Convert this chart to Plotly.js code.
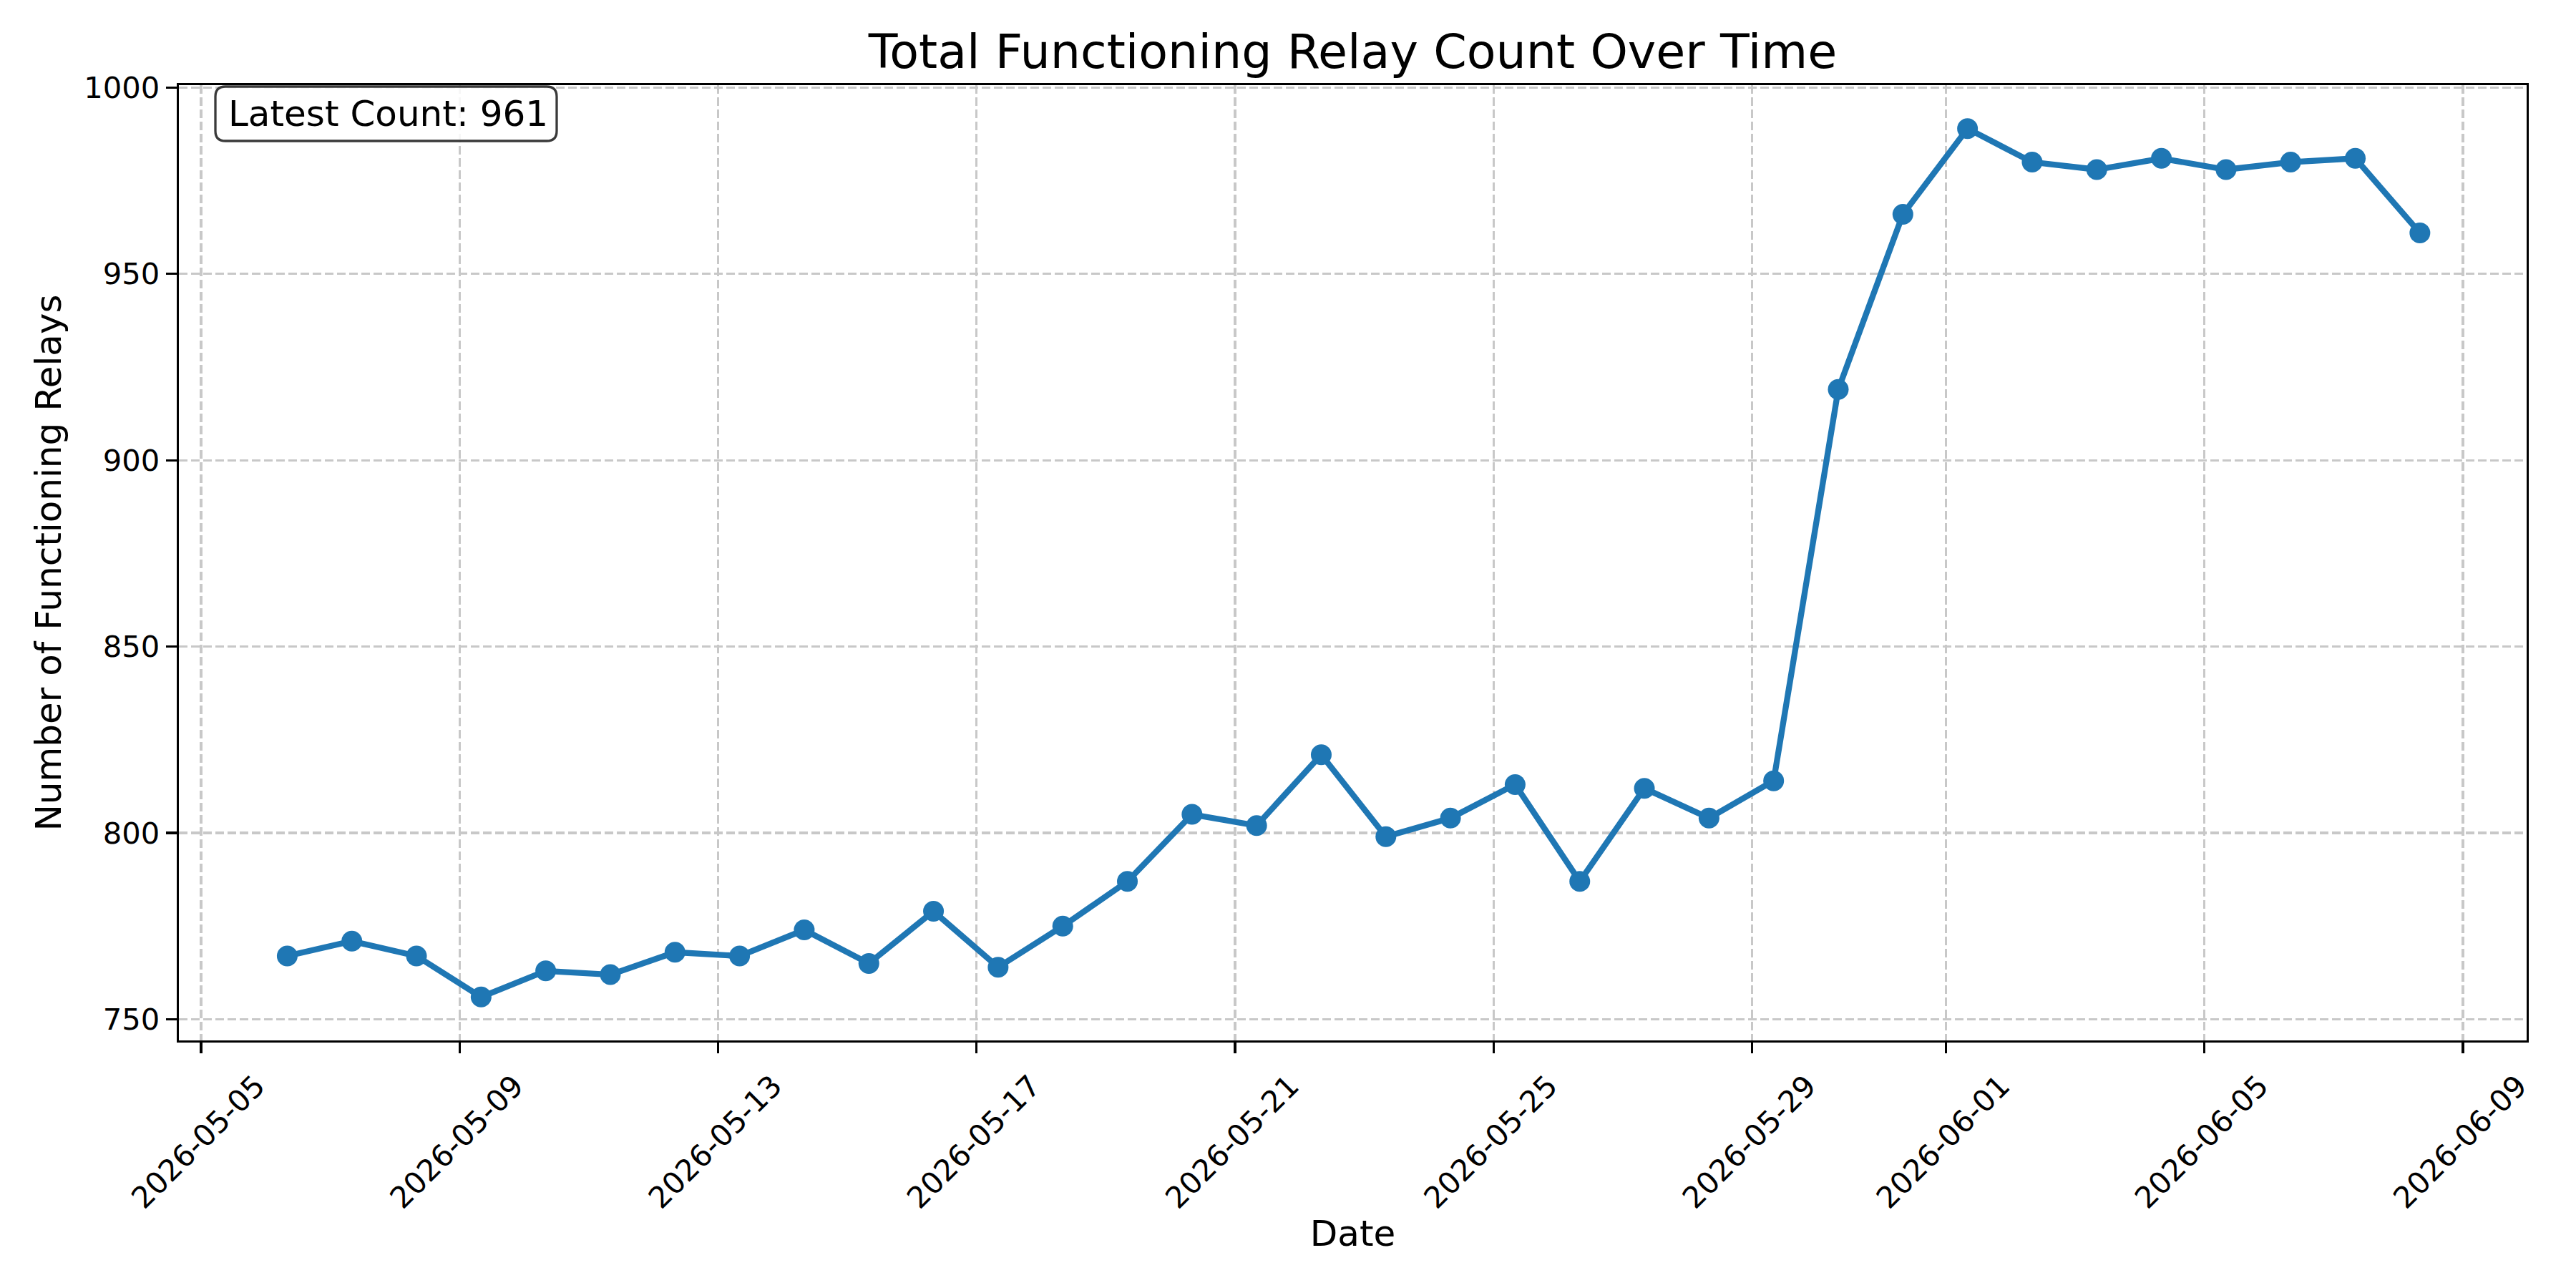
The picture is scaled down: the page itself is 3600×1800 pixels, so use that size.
<!DOCTYPE html>
<html>
<head>
<meta charset="utf-8">
<script src="https://cdn.plot.ly/plotly-3.0.1.min.js"></script>
<style>html,body{margin:0;padding:0;background:#fff;}#chart{width:3600px;height:1800px;}</style>
</head>
<body>
<div id="chart"></div>
<script>
// ---- data ----
const dates = [
  '2026-05-06 08:00','2026-05-07 08:00','2026-05-08 08:00','2026-05-09 08:00','2026-05-10 08:00',
  '2026-05-11 08:00','2026-05-12 08:00','2026-05-13 08:00','2026-05-14 08:00','2026-05-15 08:00',
  '2026-05-16 08:00','2026-05-17 08:00','2026-05-18 08:00','2026-05-19 08:00','2026-05-20 08:00',
  '2026-05-21 08:00','2026-05-22 08:00','2026-05-23 08:00','2026-05-24 08:00','2026-05-25 08:00',
  '2026-05-26 08:00','2026-05-27 08:00','2026-05-28 08:00','2026-05-29 08:00','2026-05-30 08:00',
  '2026-05-31 08:00','2026-06-01 08:00','2026-06-02 08:00','2026-06-03 08:00','2026-06-04 08:00',
  '2026-06-05 08:00','2026-06-06 08:00','2026-06-07 08:00','2026-06-08 08:00'
];
const counts = [
  767, 771, 767, 756, 763, 762, 768, 767, 774, 765,
  779, 764, 775, 787, 805, 802, 821, 799, 804, 813,
  787, 812, 804, 814, 919, 966, 989, 980, 978, 981,
  978, 980, 981, 961
];
const xTickVals = ['2026-05-05','2026-05-09','2026-05-13','2026-05-17','2026-05-21',
                   '2026-05-25','2026-05-29','2026-06-01','2026-06-05','2026-06-09'];
const xTickText = xTickVals.slice();
const yTickVals = [750, 800, 850, 900, 950, 1000];

// ---- layout helpers ----
const W = 3600, H = 1800;
const L = 250, R = 3531, T = 119, B = 1454;
const px = v => (v - L) / (R - L);
const py = v => (B - v) / (B - T);
function roundRect(x0, y0, x1, y1, r) {
  const X = v => px(v), Y = v => py(v);
  return `M ${X(x0 + r)} ${Y(y0)} L ${X(x1 - r)} ${Y(y0)} Q ${X(x1)} ${Y(y0)} ${X(x1)} ${Y(y0 + r)} ` +
         `L ${X(x1)} ${Y(y1 - r)} Q ${X(x1)} ${Y(y1)} ${X(x1 - r)} ${Y(y1)} ` +
         `L ${X(x0 + r)} ${Y(y1)} Q ${X(x0)} ${Y(y1)} ${X(x0)} ${Y(y1 - r)} ` +
         `L ${X(x0)} ${Y(y0 + r)} Q ${X(x0)} ${Y(y0)} ${X(x0 + r)} ${Y(y0)} Z`;
}

const FONT = 'DejaVu Sans, Liberation Sans, sans-serif';
const blue = '#1f77b4';

const trace = {
  x: dates, y: counts, type: 'scatter', mode: 'lines+markers',
  line: {color: blue, width: 8.3},
  marker: {color: blue, size: 29, line: {width: 0}},
  showlegend: false, hoverinfo: 'x+y'
};

const axisCommon = {
  showline: true, linecolor: '#000', linewidth: 3.3, mirror: true,
  ticks: 'outside', ticklen: 15, tickwidth: 3.3, tickcolor: '#000',
  showgrid: true, gridcolor: '#c8c8c8', gridwidth: 3.3, griddash: '12px,5px',
  zeroline: false, tickfont: {family: FONT, size: 41.7, color: '#000'},
  automargin: false
};

const layout = {
  width: W, height: H,
  margin: {l: L, r: W - R, t: T, b: H - B, pad: 0},
  paper_bgcolor: '#fff', plot_bgcolor: '#fff',
  font: {family: FONT, color: '#000'},
  title: {text: 'Total Functioning Relay Count Over Time',
          font: {family: FONT, size: 66.7, color: '#000'},
          x: 0.5, xref: 'paper', xanchor: 'center',
          y: 1, yref: 'paper', yanchor: 'bottom', pad: {b: 24}},
  xaxis: Object.assign({}, axisCommon, {
    type: 'date',
    range: ['2026-05-04 15:46', '2026-06-09 23:38'],
    tickmode: 'array', tickvals: xTickVals, ticktext: xTickText,
    tickangle: -45, ticklabelshift: 77, ticklabelstandoff: 4,
    title: {text: 'Date', font: {family: FONT, size: 50, color: '#000'}, standoff: 9}
  }),
  yaxis: Object.assign({}, axisCommon, {
    range: [744.35, 1000.65],
    tickmode: 'array', tickvals: yTickVals, ticktext: yTickVals.map(String),
    title: {text: 'Number of Functioning Relays', font: {family: FONT, size: 50, color: '#000'}, standoff: 16}
  }),
  shapes: [{
    type: 'path', xref: 'paper', yref: 'paper',
    path: roundRect(301, 121, 778, 197, 14),
    fillcolor: 'rgba(255,255,255,0.85)', line: {color: '#3a3a3a', width: 3.3}
  }],
  annotations: [{
    xref: 'paper', yref: 'paper', x: px(318), y: py(159),
    xanchor: 'left', yanchor: 'middle', showarrow: false,
    text: 'Latest Count: ' + counts[counts.length - 1],
    font: {family: FONT, size: 50, color: '#000'}, borderpad: 0
  }]
};

Plotly.newPlot('chart', [trace], layout, {displayModeBar: false, staticPlot: true});
</script>
</body>
</html>
